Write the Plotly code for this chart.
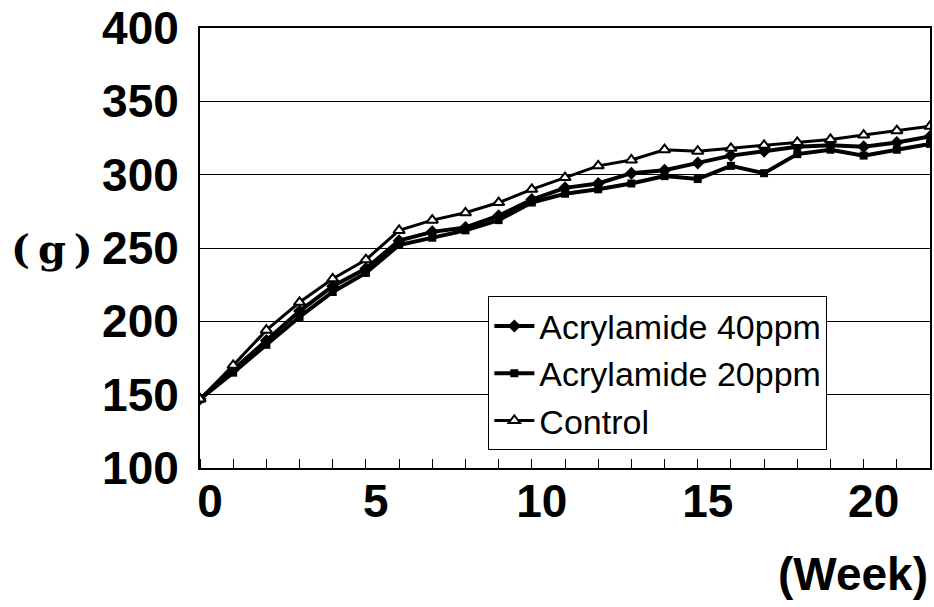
import plotly.graph_objects as go

weeks = list(range(0, 23))
control = [147, 170, 194, 213, 229, 242, 262, 269, 274, 281, 290, 298, 306, 310, 317, 316, 318, 320, 322, 324, 327, 330, 333]
acr40 = [147, 167, 187, 207, 224, 236, 255, 261, 264, 272, 283, 291, 294, 301, 303, 308, 313, 316, 319, 320, 319, 322, 326]
acr20 = [147, 165, 184, 203, 220, 233, 252, 257, 262, 269, 281, 287, 290, 294, 299, 297, 306, 301, 314, 317, 313, 317, 321]

series_names = ["Acrylamide 40ppm", "Acrylamide 20ppm", "Control"]
y_ticks = [100, 150, 200, 250, 300, 350, 400]
x_ticks = [0, 5, 10, 15, 20]

sans = "Liberation Sans, Arial, sans-serif"

fig = go.Figure()
fig.add_trace(go.Scatter(
    x=weeks, y=acr40, name=series_names[0], mode="lines+markers",
    line=dict(color="black", width=4),
    marker=dict(symbol="diamond", size=10, color="black"),
))
fig.add_trace(go.Scatter(
    x=weeks, y=acr20, name=series_names[1], mode="lines+markers",
    line=dict(color="black", width=4),
    marker=dict(symbol="square", size=8, color="black"),
))
fig.add_trace(go.Scatter(
    x=weeks, y=control, name=series_names[2], mode="lines+markers",
    line=dict(color="black", width=3),
    marker=dict(symbol="triangle-up", size=10, color="white", line=dict(color="black", width=2)),
))

fig.update_layout(
    width=934, height=607,
    margin=dict(l=200, r=2, t=26, b=139),
    paper_bgcolor="white", plot_bgcolor="white",
    font=dict(family=sans, color="black"),
    showlegend=True,
    legend=dict(
        x=0.395, y=0.39, xanchor="left", yanchor="top",
        bgcolor="white", bordercolor="black", borderwidth=1,
        font=dict(size=34, family=sans, color="black"),
        itemwidth=40, tracegroupgap=0,
    ),
    xaxis=dict(
        range=[0, 22], tickmode="array", tickvals=x_ticks, ticktext=[str(v) for v in x_ticks],
        showgrid=False, zeroline=False,
        showline=True, linecolor="black", linewidth=2, mirror=True,
        ticks="", ticklabelshift=10, ticklabelstandoff=-8,
        tickfont=dict(size=46, family=sans, color="black", weight="bold"),
        minor=dict(tickmode="linear", tick0=0, dtick=1, ticks="inside", ticklen=9, tickcolor="black", tickwidth=1, showgrid=False),
    ),
    yaxis=dict(
        range=[100, 400], tickmode="array", tickvals=y_ticks, ticktext=[str(v) for v in y_ticks],
        showgrid=True, gridcolor="black", gridwidth=1, zeroline=False,
        showline=True, linecolor="black", linewidth=2, mirror=True,
        ticks="", ticklabelstandoff=10,
        tickfont=dict(size=46, family=sans, color="black", weight="bold"),
    ),
    annotations=[
        dict(text="(\u2009g\u2009)", x=0, y=250, xref="paper", yref="y", xshift=-148, xanchor="center",
             yanchor="middle", showarrow=False,
             font=dict(size=40, family="DejaVu Serif, Liberation Serif", color="black", weight="bold")),
        dict(text="(Week)", x=1, y=0, xref="paper", yref="paper", xanchor="right", yanchor="top",
             yshift=-78, showarrow=False,
             font=dict(size=46, family=sans, color="black", weight="bold")),
    ],
)

fig.write_html("out.html")
